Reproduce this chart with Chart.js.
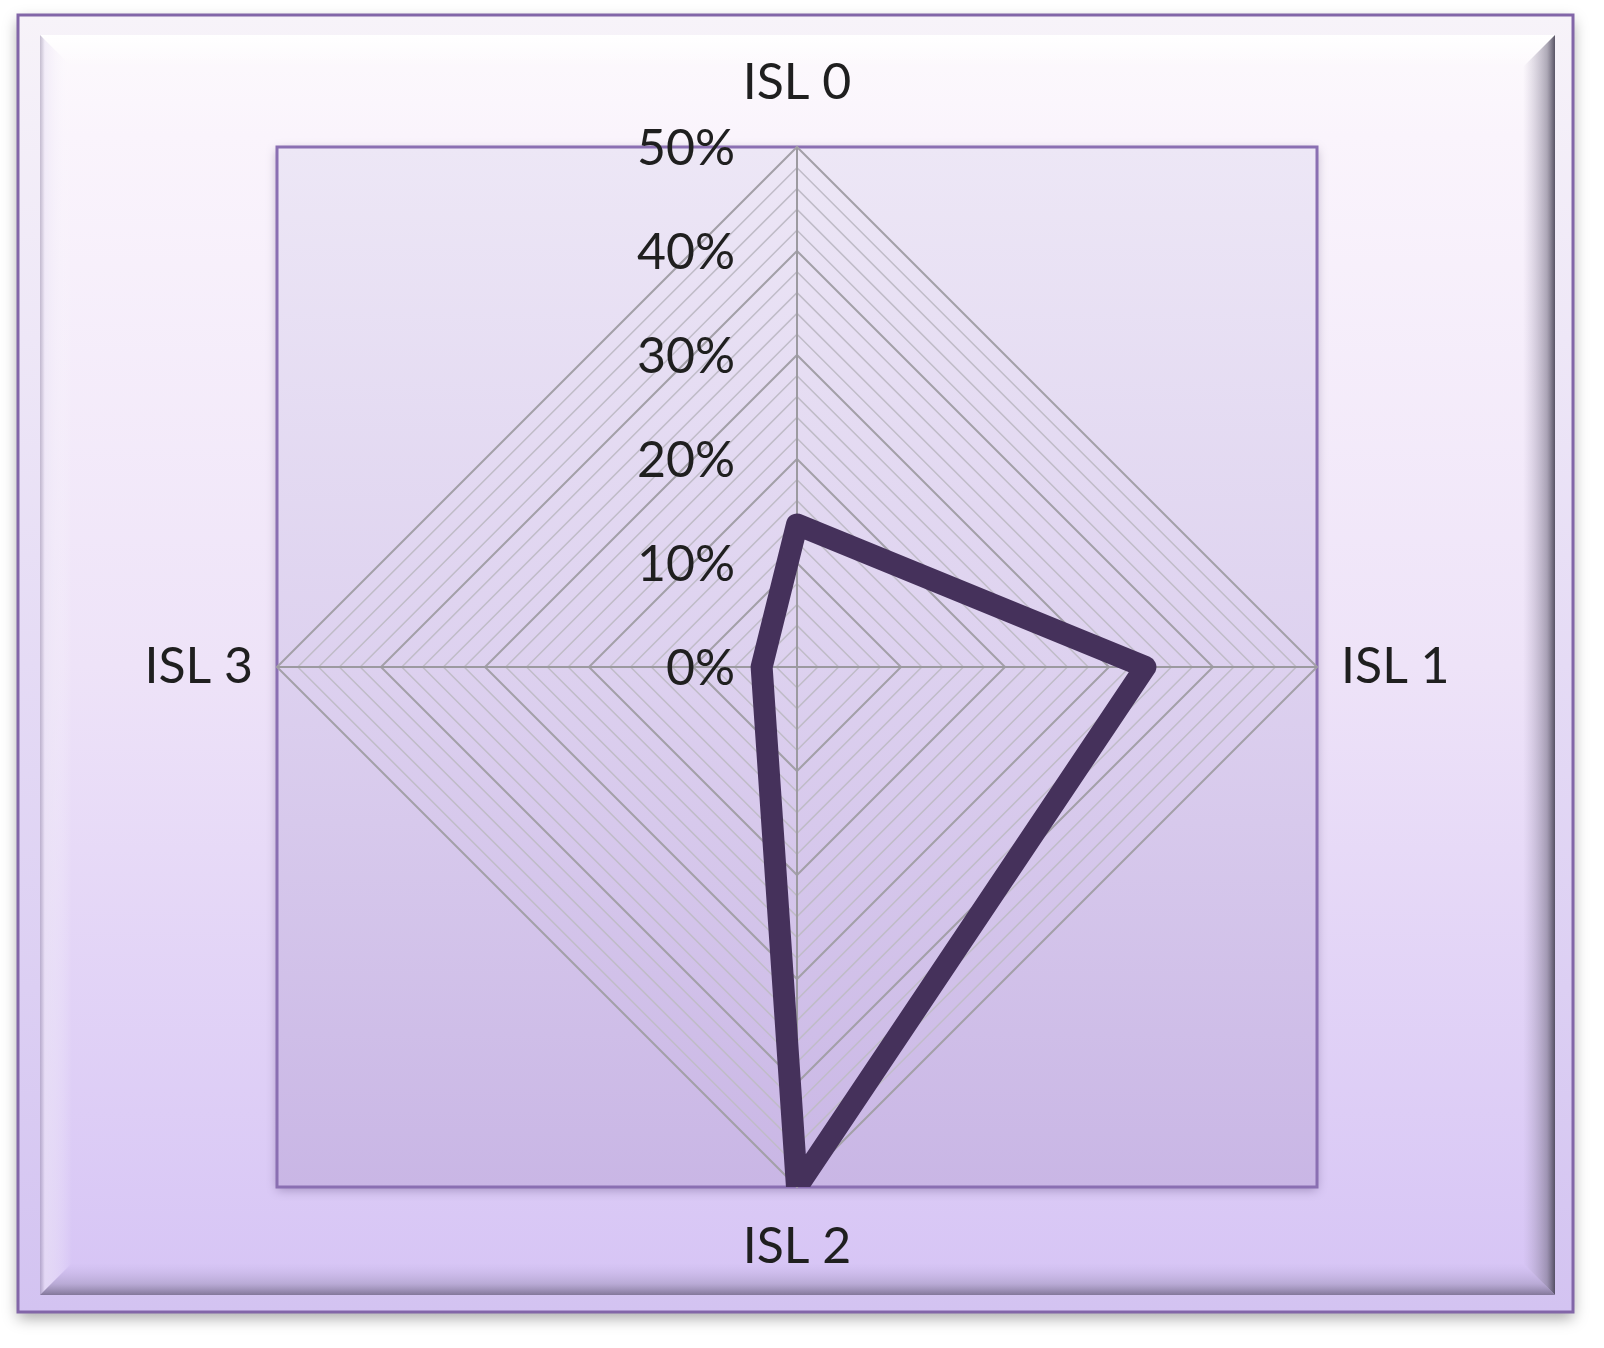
<!DOCTYPE html>
<html>
<head>
<meta charset="utf-8">
<script src="https://cdn.jsdelivr.net/npm/chart.js@4.4.1/dist/chart.umd.min.js"></script>
<style>
  html, body { margin: 0; padding: 0; background: #ffffff; }
  #wrap { position: relative; width: 1604px; height: 1348px; }
</style>
</head>
<body>
<div id="wrap"><canvas id="radar"></canvas></div>
<script>
/* --------------- Data --------------------- */
const categories = ["ISL 0", "ISL 1", "ISL 2", "ISL 3"];
const shares = [13.7, 33.5, 50, 3.4];
const majorTicks = [0, 10, 20, 30, 40, 50];

/* --------------- Frame and plot square, painted under the chart --------------------- */
const framePlugin = {
  id: "frame",
  beforeDraw(chart) {
    const ctx = chart.ctx;
    const W = chart.width, H = chart.height;
    ctx.save();
    ctx.fillStyle = "#ffffff";
    ctx.fillRect(0, 0, W, H);

    // outer box + drop shadow
    const ox0 = 18, oy0 = 15, ox1 = 1573, oy1 = 1312;
    let g = ctx.createLinearGradient(0, oy0, 0, oy1);
    g.addColorStop(0, "#f7f3f9");
    g.addColorStop(1, "#d3c3f1");
    ctx.shadowColor = "rgba(0,0,0,0.35)";
    ctx.shadowBlur = 14;
    ctx.shadowOffsetY = 6;
    ctx.fillStyle = g;
    ctx.fillRect(ox0, oy0, ox1 - ox0, oy1 - oy0);
    ctx.shadowColor = "transparent";
    ctx.lineWidth = 3;
    ctx.strokeStyle = "#8266a8";
    ctx.strokeRect(ox0, oy0, ox1 - ox0, oy1 - oy0);

    // inner panel with bevel
    const x0 = 40, y0 = 35, x1 = 1555, y1 = 1295, b = 32;
    g = ctx.createLinearGradient(0, y0, 0, y1);
    g.addColorStop(0, "#fdfafd");
    g.addColorStop(0.08, "#faf4fc");
    g.addColorStop(0.5, "#eee3f8");
    g.addColorStop(1, "#d6c4f5");
    ctx.fillStyle = g;
    ctx.fillRect(x0, y0, x1 - x0, y1 - y0);

    const trap = (pts, grad) => {
      ctx.beginPath();
      ctx.moveTo(pts[0][0], pts[0][1]);
      for (let i = 1; i < pts.length; i++) ctx.lineTo(pts[i][0], pts[i][1]);
      ctx.closePath();
      ctx.fillStyle = grad;
      ctx.fill();
    };
    g = ctx.createLinearGradient(0, y0, 0, y0 + b);
    g.addColorStop(0, "rgba(255,255,255,1)");
    g.addColorStop(1, "rgba(255,255,255,0)");
    trap([[x0, y0], [x1, y0], [x1 - b, y0 + b], [x0 + b, y0 + b]], g);
    g = ctx.createLinearGradient(x0, 0, x0 + b, 0);
    g.addColorStop(0, "rgba(150,140,170,0.55)");
    g.addColorStop(0.15, "rgba(235,228,245,0.6)");
    g.addColorStop(1, "rgba(255,255,255,0)");
    trap([[x0, y0], [x0 + b, y0 + b], [x0 + b, y1 - b], [x0, y1]], g);
    g = ctx.createLinearGradient(x1, 0, x1 - b, 0);
    g.addColorStop(0, "rgba(70,66,84,0.9)");
    g.addColorStop(0.25, "rgba(110,104,125,0.55)");
    g.addColorStop(1, "rgba(160,150,180,0)");
    trap([[x1, y0], [x1, y1], [x1 - b, y1 - b], [x1 - b, y0 + b]], g);
    g = ctx.createLinearGradient(0, y1, 0, y1 - b);
    g.addColorStop(0, "rgba(110,100,130,0.8)");
    g.addColorStop(0.35, "rgba(140,130,165,0.4)");
    g.addColorStop(1, "rgba(180,165,215,0)");
    trap([[x0, y1], [x1, y1], [x1 - b, y1 - b], [x0 + b, y1 - b]], g);

    // plot square around the radar
    const r = chart.scales.r;
    const px0 = r.xCenter - r.drawingArea, py0 = r.yCenter - r.drawingArea;
    const side = r.drawingArea * 2;
    g = ctx.createLinearGradient(0, py0, 0, py0 + side);
    g.addColorStop(0, "#ede7f6");
    g.addColorStop(0.5, "#ddd1ef");
    g.addColorStop(1, "#c9b6e5");
    ctx.shadowColor = "rgba(60,40,90,0.35)";
    ctx.shadowBlur = 10;
    ctx.shadowOffsetY = 3;
    ctx.fillStyle = g;
    ctx.fillRect(px0, py0, side, side);
    ctx.shadowColor = "transparent";
    ctx.lineWidth = 3;
    ctx.strokeStyle = "#8a6fb2";
    ctx.strokeRect(px0, py0, side, side);
    ctx.restore();
  },
  // the series line is cut at the edge of the plot square
  beforeDatasetsDraw(chart) {
    const r = chart.scales.r;
    const ctx = chart.ctx;
    ctx.save();
    ctx.beginPath();
    ctx.rect(r.xCenter - r.drawingArea, r.yCenter - r.drawingArea - 20,
             r.drawingArea * 2, r.drawingArea * 2 + 20);
    ctx.clip();
  },
  afterDatasetsDraw(chart) {
    chart.ctx.restore();
  },
};

/* --------------- Percent labels left of the vertical axis --------------------- */
const tickPlugin = {
  id: "tickText",
  afterDraw(chart) {
    const ctx = chart.ctx;
    const r = chart.scales.r;
    ctx.save();
    ctx.font = "50px Lato";
    ctx.fillStyle = "#1f1f1f";
    ctx.textAlign = "right";
    ctx.textBaseline = "middle";
    for (const v of majorTicks) {
      const d = r.getDistanceFromCenterForValue(v);
      ctx.fillText(v + "%", r.xCenter - 62, r.yCenter - d + 2);
    }
    ctx.restore();
  },
};

/* --------------- Chart --------------------- */
const radarChart = new Chart(document.getElementById("radar"), {
  type: "radar",
  plugins: [framePlugin, tickPlugin],
  data: {
    labels: categories,
    datasets: [
      {
        data: shares,
        borderColor: "#45315b",
        backgroundColor: "transparent",
        borderWidth: 22,
        borderJoinStyle: "round",
        fill: false,
        pointRadius: 0,
      },
    ],
  },
  options: {
    responsive: true,
    maintainAspectRatio: false,
    animation: false,
    layout: { padding: { left: 87, right: 97, top: 51, bottom: 69 } },
    plugins: {
      legend: { display: false },
      tooltip: { enabled: false },
    },
    scales: {
      r: {
        min: 0,
        max: 50,
        ticks: { display: false, stepSize: 2 },
        grid: {
          circular: false,
          color: (c) => (c.tick && c.tick.value % 10 === 0 ? "#a3a0a8" : "#c0bcc8"),
          lineWidth: (c) => (c.tick && c.tick.value % 10 === 0 ? 2 : 1.5),
        },
        angleLines: { color: "#9c9aa0", lineWidth: 2 },
        pointLabels: {
          color: "#1f1f1f",
          font: { family: "Lato", size: 50 },
          padding: (c) => [34, 24, 30, 24][c.index],
        },
      },
    },
  },
});
</script>
</body>
</html>
